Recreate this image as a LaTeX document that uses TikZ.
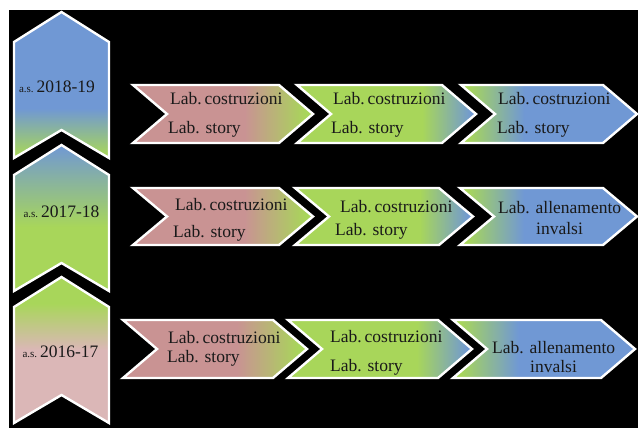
\documentclass[tikz,border=0pt]{standalone}
\usepackage{fontspec}
\setmainfont{Liberation Serif}
\definecolor{hblue}{RGB}{112,152,212}
\definecolor{hgreen}{RGB}{168,214,90}
\definecolor{hpink}{RGB}{201,147,147}
\definecolor{vpink}{RGB}{219,183,183}
\definecolor{txt}{RGB}{25,25,25}
\pgfdeclarehorizontalshading{pinkgreen}{100bp}{color(0bp)=(hpink); color(56bp)=(hpink); color(73bp)=(hgreen); color(100bp)=(hgreen)}
\pgfdeclarehorizontalshading{greenblueR}{100bp}{color(0bp)=(hgreen); color(60bp)=(hgreen); color(74bp)=(hblue); color(100bp)=(hblue)}
\pgfdeclarehorizontalshading{greenblueL}{100bp}{color(0bp)=(hgreen); color(27bp)=(hgreen); color(43bp)=(hblue); color(100bp)=(hblue)}
\pgfdeclareverticalshading{vone}{100bp}{color(0bp)=(hgreen); color(26bp)=(hgreen); color(42bp)=(hblue); color(100bp)=(hblue)}
\pgfdeclareverticalshading{vtwo}{100bp}{color(0bp)=(hgreen); color(47bp)=(hgreen); color(75bp)=(hblue); color(100bp)=(hblue)}
\pgfdeclareverticalshading{vthree}{100bp}{color(0bp)=(vpink); color(50bp)=(vpink); color(66bp)=(hgreen); color(100bp)=(hgreen)}
\tikzset{
  chev/.style={shade, shading=#1, draw=white, line width=2.4pt, line join=miter},
  lab/.style={anchor=base west, inner sep=0pt, text=txt, font=\fontsize{17.5}{19}\selectfont},
  yr/.style={anchor=base, inner sep=0pt, text=txt, font=\fontsize{17.5}{19}\selectfont},
}
% #1 shading, #2 tip x, #3 point x, #4 top y, #5 bottom y, #6 depth
\newcommand\hchevron[6]{%
  \path[chev=#1] (#2,#4) -- ({#3-#6},#4) -- (#3,{(#4+#5)/2}) -- ({#3-#6},#5) -- (#2,#5) -- ({#2+#6},{(#4+#5)/2}) -- cycle;}
% #1 shading, #2 top point y
\newcommand\vchevron[2]{%
  \path[chev=#1] (61.5,#2) -- (109,{#2+30}) -- (109,{#2+146}) -- (61.5,{#2+118}) -- (14,{#2+146}) -- (14,{#2+30}) -- cycle;}
\newcommand\asyear[1]{{\fontsize{11}{12}\selectfont a.s.}\,#1}
\begin{document}
\begin{tikzpicture}[x=1pt,y=-1pt]
\fill[white] (0,0) rectangle (638,428);
\useasboundingbox (0,0) rectangle (638,428);
\fill[black] (9,10) rectangle (638,428);
% vertical chevrons
\vchevron{vone}{12}
\vchevron{vtwo}{145}
\vchevron{vthree}{277}
\node[yr] (y1) at (57,93) {\asyear{2018-19}};
\node[yr] (y2) at (61.5,217) {\asyear{2017-18}};
\node[yr] (y3) at (60.5,357) {\asyear{2016-17}};
% row 1
\hchevron{pinkgreen}{133}{313}{85}{143}{34}
\hchevron{greenblueR}{297}{476}{85}{143}{34}
\hchevron{greenblueL}{461}{637}{85}{143}{34}
\node[lab] (a1) at (170,105) {Lab.\,costruzioni};
\node[lab] (a2) at (168,133) {Lab. story};
\node[lab] (b1) at (333,105) {Lab.\,costruzioni};
\node[lab] (b2) at (331,133) {Lab. story};
\node[lab] (c1) at (498,105) {Lab.\,costruzioni};
\node[lab] (c2) at (497,133) {Lab. story};
% row 2
\hchevron{pinkgreen}{133}{313}{188}{245}{34}
\hchevron{greenblueR}{295}{473}{188}{245}{34}
\hchevron{greenblueL}{460}{637}{188}{245}{34}
\node[lab] (d1) at (175,210) {Lab.\,costruzioni};
\node[lab] (d2) at (173,237) {Lab. story};
\node[lab] (e1) at (340,212) {Lab.\,costruzioni};
\node[lab] (e2) at (335,235) {Lab. story};
\node[lab] (f1) at (498,213) {Lab. allenamento};
\node[lab] (f2) at (536,234) {invalsi};
% row 3
\hchevron{pinkgreen}{123}{307}{320}{378}{34}
\hchevron{greenblueR}{288}{472}{320}{378}{34}
\hchevron{greenblueL}{453}{635}{320}{378}{34}
\node[lab] (g1) at (168,343) {Lab.\,costruzioni};
\node[lab] (g2) at (167,362) {Lab. story};
\node[lab] (h1) at (330,342) {Lab.\,costruzioni};
\node[lab] (h2) at (330,371) {Lab. story};
\node[lab] (i1) at (492,353) {Lab. allenamento};
\node[lab] (i2) at (530,372) {invalsi};
\end{tikzpicture}
\end{document}
